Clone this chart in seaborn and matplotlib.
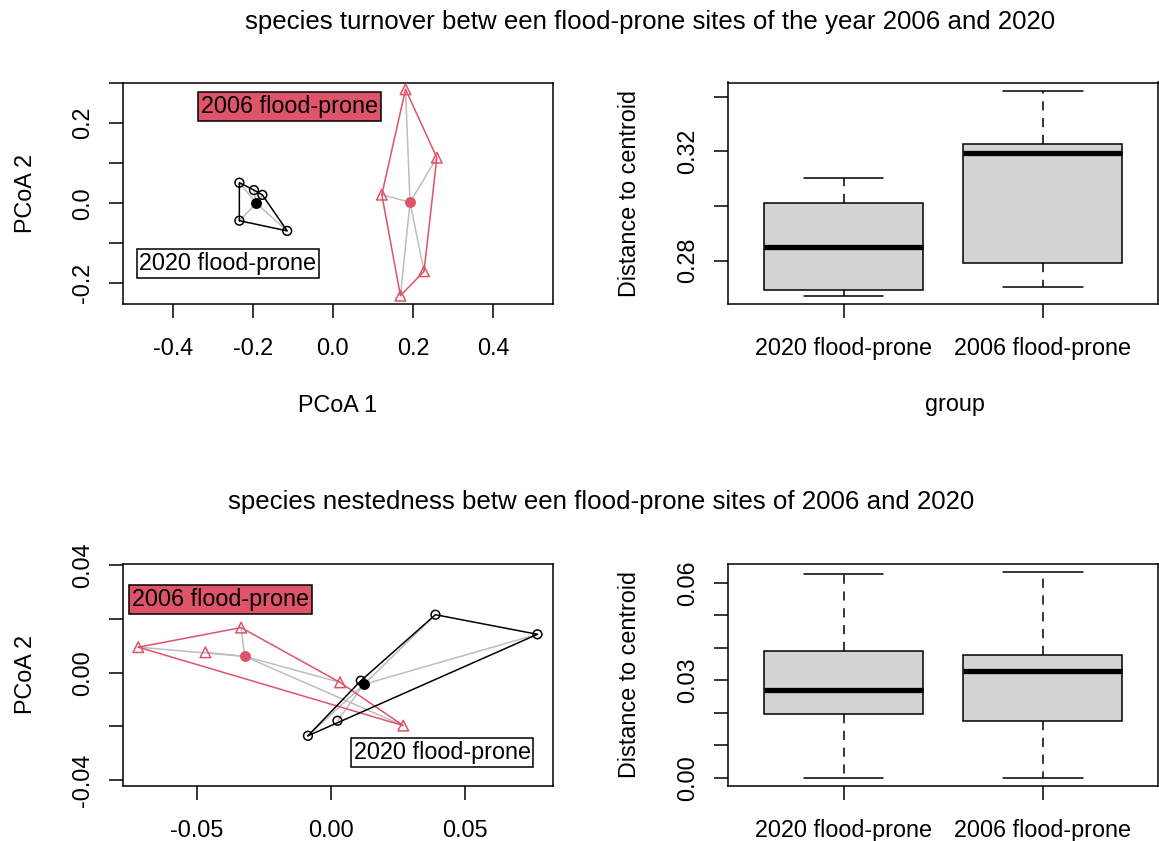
import numpy as np
import pandas as pd
import matplotlib
matplotlib.use("Agg")
import matplotlib.pyplot as plt
import seaborn as sns

# ---------------- data ----------------
groups = ["2020 flood-prone", "2006 flood-prone"]

# turnover ordination (PCoA 1 / PCoA 2)
turn_2020_x = [-0.2335, -0.197, -0.176, -0.2335, -0.114]
turn_2020_y = [0.0515, 0.033, 0.021, -0.0435, -0.069]
turn_2020_cen = [-0.191, 0.0]
turn_2006_x = [0.1817, 0.26, 0.1225, 0.228, 0.169]
turn_2006_y = [0.285, 0.114, 0.0215, -0.17, -0.231]
turn_2006_cen = [0.193, 0.0025]

# nestedness ordination
nest_2020_x = [0.0389, 0.0769, 0.0111, 0.0024, -0.0086]
nest_2020_y = [0.0216, 0.0143, -0.0030, -0.0179, -0.0235]
nest_2020_cen = [0.0123, -0.0043]
nest_2006_x = [-0.0718, -0.0468, -0.0335, 0.00335, 0.0269]
nest_2006_y = [0.0095, 0.0076, 0.0168, -0.0036, -0.0197]
nest_2006_cen = [-0.0322, 0.0061]

# distances to centroid
turn_dist_2020 = [0.2672, 0.2694, 0.2852, 0.3011, 0.3104]
turn_dist_2006 = [0.2705, 0.2792, 0.3193, 0.3227, 0.3421]
nest_dist_2020 = [0.0, 0.0196, 0.0271, 0.0390, 0.0627]
nest_dist_2006 = [0.0, 0.0174, 0.0330, 0.0378, 0.0632]

titles = ["species turnover betw een flood-prone sites of the year 2006 and 2020",
          "species nestedness betw een flood-prone sites of 2006 and 2020"]

# ---------------- style ----------------
sns.set_theme(style="white")
plt.rcParams["font.family"] = ["Liberation Sans", "DejaVu Sans"]
plt.rcParams["axes.unicode_minus"] = False
plt.rcParams["text.color"] = "black"
plt.rcParams["axes.labelcolor"] = "black"
plt.rcParams["xtick.color"] = "black"
plt.rcParams["ytick.color"] = "black"
FS = 16.8
TFS = 18.6
RED = "#DF536B"
GREY = "#BEBEBE"
LW = 1.1

W, H = 1159, 841
fig = plt.figure(figsize=(W / 100, H / 100), dpi=100)


def add_ax(l, t, r, b):
    return fig.add_axes([l / W, (H - b) / H, (r - l) / W, (b - t) / H])


ax_tl = add_ax(122.7, 82.7, 553.3, 304.0)
ax_tr = add_ax(728.0, 82.5, 1158.3, 304.0)
ax_bl = add_ax(122.7, 563.7, 553.3, 786.0)
ax_br = add_ax(728.0, 564.0, 1158.3, 786.0)


def style_axes(ax):
    for s in ax.spines.values():
        s.set_visible(True)
        s.set_color("black")
        s.set_linewidth(LW)
    ax.tick_params(axis="both", direction="out", length=10, width=LW,
                   color="black", labelsize=FS, labelcolor="black",
                   bottom=True, left=True, top=False, right=False)
    ax.tick_params(axis="x", pad=14)
    ax.tick_params(axis="y", pad=19)
    for lab in ax.get_yticklabels():
        lab.set_rotation(90)
        lab.set_va("center")
        lab.set_ha("center")
    ax.grid(False)


def hull(xs, ys):
    pts = sorted(set(zip(xs, ys)))

    def cross(o, a, b):
        return (a[0] - o[0]) * (b[1] - o[1]) - (a[1] - o[1]) * (b[0] - o[0])

    lower, upper = [], []
    for p in pts:
        while len(lower) >= 2 and cross(lower[-2], lower[-1], p) <= 0:
            lower.pop()
        lower.append(p)
    for p in reversed(pts):
        while len(upper) >= 2 and cross(upper[-2], upper[-1], p) <= 0:
            upper.pop()
        upper.append(p)
    h = lower[:-1] + upper[:-1]
    h.append(h[0])
    return [p[0] for p in h], [p[1] for p in h]


def ordination(ax, gx, gy, gc, color, marker, msize):
    for x, y in zip(gx, gy):
        ax.plot([gc[0], x], [gc[1], y], color=GREY, lw=LW, zorder=1)
    hx, hy = hull(gx, gy)
    ax.plot(hx, hy, color=color, lw=LW, zorder=2)
    sns.scatterplot(x=gx, y=gy, ax=ax, marker=marker, s=msize,
                    facecolor="none", edgecolor=color, linewidth=LW, zorder=3)
    sns.scatterplot(x=[gc[0]], y=[gc[1]], ax=ax, marker="o", s=62,
                    color=color, edgecolor=color, linewidth=0, zorder=4)


def label_box(ax, x, y, text, fc):
    ax.text(x, y, text, fontsize=FS, ha="center", va="center", color="black",
            zorder=5, bbox=dict(boxstyle="square,pad=0.12", fc=fc, ec="black", lw=LW))


# ---------- top left ----------
ordination(ax_tl, turn_2020_x, turn_2020_y, turn_2020_cen, "black", "o", 40)
ordination(ax_tl, turn_2006_x, turn_2006_y, turn_2006_cen, RED, "^", 58)
label_box(ax_tl, -0.1075, 0.2425, groups[1], RED)
label_box(ax_tl, -0.262, -0.150, groups[0], "white")
ax_tl.set_xlim(-0.525, 0.551)
ax_tl.set_ylim(-0.2518, 0.3015)
ax_tl.set_xticks([-0.4, -0.2, 0.0, 0.2, 0.4])
ax_tl.set_xticklabels(["-0.4", "-0.2", "0.0", "0.2", "0.4"])
ax_tl.set_yticks([-0.2, -0.1, 0.0, 0.1, 0.2, 0.3])
ax_tl.set_yticklabels(["-0.2", "", "0.0", "", "0.2", ""])
ax_tl.set_xlabel("PCoA 1", fontsize=FS, va="center")
ax_tl.set_ylabel("PCoA 2", fontsize=FS, va="center")
style_axes(ax_tl)
ax_tl.xaxis.set_label_coords(0.5, (304 - 405) / 221.3)
ax_tl.yaxis.set_label_coords(-(122.7 - 25) / 430.6, 0.5)

# ---------- bottom left ----------
ordination(ax_bl, nest_2006_x, nest_2006_y, nest_2006_cen, RED, "^", 58)
ordination(ax_bl, nest_2020_x, nest_2020_y, nest_2020_cen, "black", "o", 40)
label_box(ax_bl, -0.0411, 0.0273, groups[1], RED)
label_box(ax_bl, 0.0414, -0.0297, groups[0], "white")
ax_bl.set_xlim(-0.0776, 0.0828)
ax_bl.set_ylim(-0.0422, 0.0406)
ax_bl.set_xticks([-0.05, 0.0, 0.05])
ax_bl.set_xticklabels(["-0.05", "0.00", "0.05"])
ax_bl.set_yticks([-0.04, -0.02, 0.0, 0.02, 0.04])
ax_bl.set_yticklabels(["-0.04", "", "0.00", "", "0.04"])
ax_bl.set_xlabel("")
ax_bl.set_ylabel("PCoA 2", fontsize=FS, va="center")
style_axes(ax_bl)
ax_bl.yaxis.set_label_coords(-(122.7 - 25) / 430.6, 0.5)


# ---------- boxplots ----------
def box(ax, d2020, d2006):
    df = pd.DataFrame({"group": [groups[0]] * len(d2020) + [groups[1]] * len(d2006),
                       "dist": d2020 + d2006})
    sns.boxplot(data=df, x="group", y="dist", order=groups, ax=ax,
                color="#D3D3D3", saturation=1, linecolor="black", linewidth=LW,
                width=0.8, whis=1.5, fliersize=0,
                medianprops=dict(linewidth=3.8, color="black", solid_capstyle="butt"),
                whiskerprops=dict(linestyle=(0, (6, 5)), linewidth=LW, color="black"),
                capprops=dict(linewidth=LW, color="black"))
    ax.set_xlim(-0.58, 1.58)


box(ax_tr, turn_dist_2020, turn_dist_2006)
ax_tr.set_ylim(0.2642, 0.3452)
ax_tr.set_yticks([0.28, 0.30, 0.32, 0.34])
ax_tr.set_yticklabels(["0.28", "", "0.32", ""])
ax_tr.set_xlabel("group", fontsize=FS, va="center")
ax_tr.set_ylabel("Distance to centroid", fontsize=FS, va="center")
style_axes(ax_tr)
ax_tr.xaxis.set_label_coords((955 - 728) / 430.3, (304 - 405) / 221.5)
ax_tr.yaxis.set_label_coords(-(728 - 629) / 430.3, 0.5)

box(ax_br, nest_dist_2020, nest_dist_2006)
ax_br.set_ylim(-0.00255, 0.0658)
ax_br.set_yticks([0.0, 0.01, 0.02, 0.03, 0.04, 0.05, 0.06])
ax_br.set_yticklabels(["0.00", "", "", "0.03", "", "", "0.06"])
ax_br.set_xlabel("")
ax_br.set_ylabel("Distance to centroid", fontsize=FS, va="center")
style_axes(ax_br)
ax_br.yaxis.set_label_coords(-(728 - 629) / 430.3, 0.5)

# ---------- titles ----------
fig.text(650 / W, 1 - 22 / H, titles[0], fontsize=TFS, ha="center", va="center")
fig.text(601.5 / W, 1 - 502 / H, titles[1], fontsize=TFS, ha="center", va="center")

fig.savefig("out.png", dpi=100, facecolor="white")
